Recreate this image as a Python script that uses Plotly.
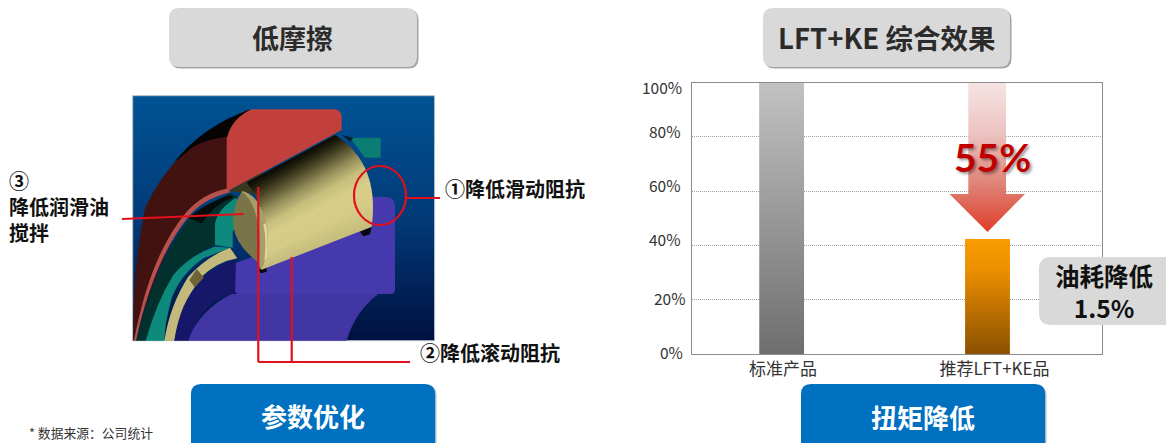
import re
import plotly.graph_objects as go

# ---------- chart data ----------
categories = ["标准产品", "推荐LFT+KE品"]
values = [100, 42.4]
y_ticks = [0, 20, 40, 60, 80, 100]
y_tick_labels = ["0%", "20%", "40%", "60%", "80%", "100%"]
bar_scales = [[[0, "#6e6e6e"], [1, "#c2c2c2"]], [[0, "#8a5000"], [0.75, "#ee9000"], [1, "#f99c00"]]]
callout = "55%"
saving = ["油耗降低", "1.5%"]

W, H = 1166, 443
FONT = "Noto Sans CJK SC"
fig = go.Figure()

# ---------- bar chart ----------
BAR_W = 0.217
for i, (c, v) in enumerate(zip(categories, values)):
    fig.add_trace(go.Bar(x=[i], y=[v], width=BAR_W, marker=dict(color=bar_scales[i][-1][1], line_width=0),
                         name=c, showlegend=False, xaxis="x", yaxis="y"))
    fig.add_trace(go.Scatter(x=[i - BAR_W / 2, i + BAR_W / 2, i + BAR_W / 2, i - BAR_W / 2, i - BAR_W / 2],
                             y=[0, 0, v, v, 0], mode="lines", line_width=0, fill="toself",
                             fillgradient=dict(type="vertical", colorscale=bar_scales[i]),
                             showlegend=False, hoverinfo="skip", xaxis="x", yaxis="y"))

# ---------- helpers ----------
ORIG = {1: (130, 95), 2: (225, 95)}

def P(s, o):
    """Path written in 3x crop coordinates -> page pixels."""
    ox, oy = ORIG[o]
    out, nums = [], []
    for tok in re.findall(r"[MLQCZ]|-?\d+\.?\d*", s):
        if tok.isalpha():
            out.append(tok)
        else:
            nums.append(float(tok))
            if len(nums) == 2:
                out.append(f"{ox + nums[0] / 3:.1f},{oy + nums[1] / 3:.1f}")
                nums = []
    return " ".join(out)

shapes = []

def path(s, fill, o=1):
    shapes.append(dict(type="path", path=P(s, o), xref="x2", yref="y2", layer="above", fillcolor=fill,
                       line=dict(color="rgba(0,0,0,0)", width=0)))

def rrect(x0, y0, x1, y1, r, fill):
    d = (f"M{x0+r},{y0} L{x1-r},{y0} Q{x1},{y0} {x1},{y0+r} L{x1},{y1-r} Q{x1},{y1} {x1-r},{y1} "
         f"L{x0+r},{y1} Q{x0},{y1} {x0},{y1-r} L{x0},{y0+r} Q{x0},{y0} {x0+r},{y0} Z")
    shapes.append(dict(type="path", path=d, xref="x2", yref="y2", layer="above", fillcolor=fill, line_width=0))

def seg(x0, y0, x1, y1, color="#e2101c", w=2.2):
    shapes.append(dict(type="line", x0=x0, y0=y0, x1=x1, y1=y1, xref="x2", yref="y2",
                       layer="above", line=dict(color=color, width=w)))

def mix(a, b, t):
    ca = [int(a[i:i + 2], 16) for i in (1, 3, 5)]
    cb = [int(b[i:i + 2], 16) for i in (1, 3, 5)]
    return "#" + "".join(f"{round(p + (q - p) * t):02x}" for p, q in zip(ca, cb))

def bez(a, b, c, t):
    return ((1 - t) ** 2 * a[0] + 2 * t * (1 - t) * b[0] + t ** 2 * c[0],
            (1 - t) ** 2 * a[1] + 2 * t * (1 - t) * b[1] + t ** 2 * c[1])

# ---------- panel background & arrow (gradient polygons) ----------
px0, py0, px1, py1 = 132.7, 95.7, 434.6, 340.7
fig.add_trace(go.Scatter(x=[px0, px1, px1, px0, px0], y=[py0, py0, py1, py1, py0], mode="lines",
                         line=dict(color="#b8c0c8", width=1), fill="toself",
                         fillgradient=dict(type="vertical",
                                           colorscale=[[0, "#001040"], [0.5, "#023a78"], [1, "#005394"]]),
                         showlegend=False, hoverinfo="skip", xaxis="x2", yaxis="y2"))
ax = [968.3, 1006, 1006, 1025, 987.5, 949.5, 968.3, 968.3]
ay = [83, 83, 194, 194, 232, 194, 194, 83]
fig.add_trace(go.Scatter(x=ax, y=ay, mode="lines", line_width=0, fill="toself",
                         fillgradient=dict(type="vertical",
                                           colorscale=[[0, "#e03c28"], [0.26, "#de7669"], [0.665, "#ecc4c2"], [1, "#f7e3e3"]]),
                         showlegend=False, hoverinfo="skip", xaxis="x2", yaxis="y2"))

# ---------- illustration ----------
# lower race / purple pieces (crop 2 coordinates)
path("M-115,737 Q-70,640 20,597 L460,597 Q390,650 365,737 Z", "#4136a4", 2)
path("M30,505 L30,585 Q30,597 42,597 L495,597 Q510,597 510,585 L510,335 Q510,305 480,305 L440,305 L100,480 Z", "#4639ae", 2)
path("M375,128 L467,128 L467,188 L420,188 Z", "#0c7d72", 2)
path("M350,120 L385,128 L375,140 Z", "#08202a", 2)
# outer shell and rings (crop 1 coordinates)
path("M10,737 Q8,520 45,340 Q130,150 350,45 L370,45 L300,130 L295,280 Q220,300 170,360 Q80,500 15,737 Z", "#421210")
path("M130,205 Q220,90 365,43 Q310,70 298,125 Q240,128 190,155 Z", "#060303")
path("M18,737 Q80,500 170,380 Q220,330 300,295 L322,305 L258,370 L255,450 Q180,480 120,560 Q80,640 47,737 Z", "#02302c")
path("M175,370 Q215,330 300,300 L310,306 Q250,330 215,385 Z", "#050c0a")
path("M12,737 Q60,480 170,350 Q220,295 295,280 L302,291 Q220,312 178,362 Q72,490 18,737 Z", "#b6524e")
path("M47,737 Q80,620 130,540 Q180,480 255,455 L300,458 L220,490 Q150,540 125,610 Q105,680 103,737 Z", "#0d8a7c")
path("M103,737 Q120,630 175,545 Q230,485 300,458 L322,490 Q260,500 210,550 Q150,640 133,737 Z", "#c4b97c")
path("M178,555 L200,522 L222,548 L200,585 Z", "#6d6336")
path("M133,737 Q150,620 210,560 Q260,505 318,495 L315,595 Q220,610 175,737 Z", "#17176a")
path("M255,450 L255,385 Q265,340 318,308 L338,360 L308,410 L308,458 Z", "#0d8a7c")
# red block (crop 2)
path("M80,43 L330,43 Q350,45 350,70 L350,105 L10,287 L5,280 L5,130 Q20,70 80,43 Z", "#c1403c", 2)
# dark filler under the red block, roller end face, rim, contact dots (crop 2)
path("M10,289 L110,233 L120,300 L50,292 Z", "#3a3820", 2)
path("M50,288 Q115,300 140,440 L108,528 L70,400 Z", "#a69e66", 2)
path("M50,290 Q22,330 25,390 Q30,450 100,502 Q112,420 90,350 Q75,305 50,290 Z", "#7a7549", 2)
path("M100,525 L125,515 L125,530 L108,535 Z", "#06060f", 2)
path("M405,410 L440,395 L435,418 L415,424 Z", "#06060f", 2)
stops = [(0, "#0a0904"), (0.06, "#1c1a0b"), (0.17, "#4c4828"), (0.32, "#938d59"), (0.46, "#c7be7d"),
         (0.6, "#d8ce88"), (0.8, "#d6cc88"), (1, "#c7bd7b")]
N = 36
la, lb, lc = (65, 262), (165, 400), (108, 525)
ra, rb, rc = (330, 120), (465, 205), (440, 395)
for i in range(N):
    t0, t1 = i / N, min((i + 1.25) / N, 1)
    tc = (i + 0.5) / N
    for (s0, c0), (s1, c1) in zip(stops, stops[1:]):
        if s0 <= tc <= s1:
            col = mix(c0, c1, (tc - s0) / (s1 - s0))
    p = [bez(la, lb, lc, t0), bez(ra, rb, rc, t0), bez(ra, rb, rc, t1), bez(la, lb, lc, t1)]
    path("M{},{} L{},{} L{},{} L{},{} Z".format(*[round(v, 1) for q in p for v in q]), col, 2)
# soft rim highlight on the cone's left edge
path("M122,385 Q133,430 124,490 L118,495 Q126,430 115,388 Z", "#dfd89c", 2)

# red leaders
shapes.append(dict(type="circle", x0=354, y0=166, x1=406, y1=225, xref="x2", yref="y2", layer="above",
                   line=dict(color="#e2101c", width=2.2)))
seg(406, 198, 440, 198)
seg(122, 219, 243.5, 214)
seg(258.3, 187, 258.3, 362)
seg(291.7, 257, 291.7, 362)
seg(258.3, 362, 410, 362)

# ---------- buttons ----------
for x0, x1 in [(169, 417), (763, 1010)]:
    rrect(x0 + 1.5, 9.5, x1 + 1.5, 68.5, 10, "#a3a3a3")
    rrect(x0, 8, x1, 67, 10, "#d9d9d9")
for x0, x1 in [(191, 435), (801, 1045)]:
    rrect(x0 + 1.5, 385.5, x1 + 1.5, 460, 10, "#a8b8c6")
    rrect(x0, 384, x1, 460, 10, "#0070c0")
rrect(1039, 257, 1190, 325, 12, "#d9d9d9")

# ---------- text ----------
ann = []

def T(x, y, text, size, color="#111111", bold=True, xanchor="center", family=FONT, align="center", **kw):
    ann.append(dict(x=x, y=y, xref="x2", yref="y2", text=f"<b>{text}</b>" if bold else text, showarrow=False,
                    xanchor=xanchor, yanchor="middle", align=align,
                    font=dict(family=family, size=size, color=color, **kw)))

T(292, 37, "低摩擦", 27, "#2b2b2b")
T(886, 37, "LFT+KE 综合效果", 27.5, "#2b2b2b")
T(313, 415, "参数优化", 26, "#ffffff")
T(923, 416, "扭矩降低", 26, "#ffffff")
T(7, 206, "③<br>降低润滑油<br>搅拌", 20, xanchor="left", align="left")
T(443, 188, "①降低滑动阻抗", 20, xanchor="left")
T(418, 352, "②降低滚动阻抗", 20, xanchor="left")
T(27, 432, "* 数据来源：公司统计", 12.8, "#333333", bold=False, xanchor="left")
T(992.8, 157, callout, 39, "#c00000", family="Lato", shadow="2px 2px 3px rgba(0,0,0,0.4)")
T(1104, 291.5, saving[0] + "<br>" + saving[1], 24.5)
# y tick labels sit slightly off their gridlines in the reference
tick_xy = [(685, 352), (687, 298), (682, 239), (682, 185), (682, 131), (684, 87)]
for lab, (x, y) in zip(y_tick_labels, tick_xy):
    T(x, y, lab, 15.5, "#333333", bold=False, xanchor="right")

# ---------- layout ----------
dx = 205.8
x_left, x_right, x_zero = 692, 1101.5, 781.7
fig.update_layout(
    width=W, height=H, margin=dict(l=0, r=0, t=0, b=0), paper_bgcolor="#ffffff", plot_bgcolor="rgba(0,0,0,0)",
    showlegend=False, shapes=shapes, annotations=ann, barmode="overlay",
    xaxis=dict(domain=[x_left / W, x_right / W], range=[(x_left - x_zero) / dx, (x_right - x_zero) / dx],
               tickmode="array", tickvals=[0.006, 1.034], ticktext=categories, ticks="", showgrid=False,
               zeroline=False, showline=True, linecolor="#8c8c8c", mirror=True,
               tickfont=dict(family=FONT, size=17, color="#333333")),
    yaxis=dict(domain=[1 - 354 / H, 1 - 82.5 / H], range=[0, 100], tickmode="array", tickvals=y_ticks,
               showticklabels=False, ticks="", gridcolor="#a0a0a0", griddash="1px,1px", gridwidth=1,
               zeroline=False, showline=True, linecolor="#8c8c8c", mirror=True),
    xaxis2=dict(domain=[0, 1], range=[0, W], visible=False, anchor="y2"),
    yaxis2=dict(domain=[0, 1], range=[H, 0], visible=False, anchor="x2"),
)
fig.write_html("out.html", config=dict(displayModeBar=False),
               post_script="document.body.style.margin='0';document.documentElement.style.overflow='hidden';")
